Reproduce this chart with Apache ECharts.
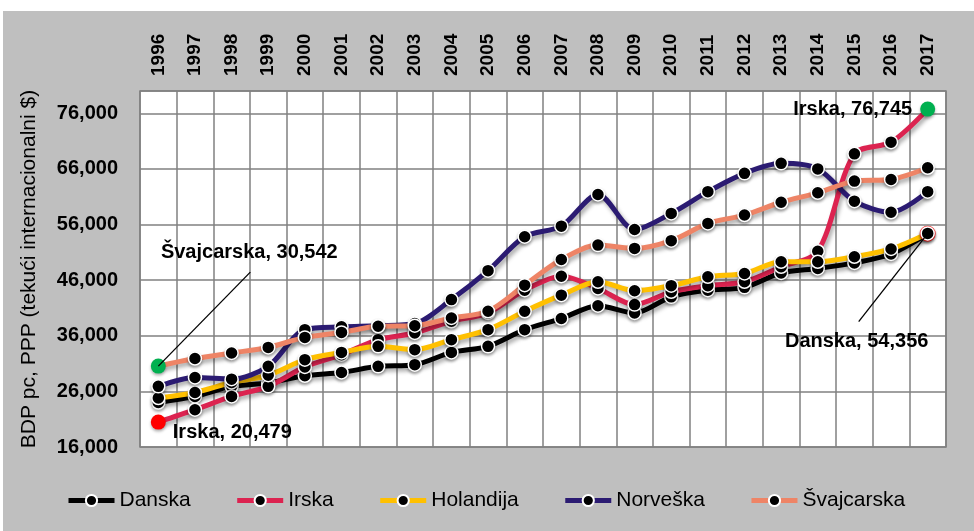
<!DOCTYPE html>
<html>
<head>
<meta charset="utf-8">
<script src="https://cdn.jsdelivr.net/npm/echarts@6/dist/echarts.min.js"></script>
<style>
  html, body { margin: 0; padding: 0; background: #fff; }
  #chart { position: absolute; left: 3px; top: 11px; width: 971px; height: 520px; background: #bfbfbf; }
</style>
</head>
<body>
<div id="chart"></div>
<script>
// godine
var years = ['1996','1997','1998','1999','2000','2001','2002','2003','2004','2005','2006',
             '2007','2008','2009','2010','2011','2012','2013','2014','2015','2016','2017'];

// BDP pc, PPP po zemljama (procjena sa slike)
var danska     = [24000, 25100, 26900, 27500, 28800, 29400, 30500, 30800, 33000, 34100, 37100, 39100, 41400, 40100, 43000, 44200, 44700, 47300, 48100, 49100, 50700, 54356];
var irska      = [20479, 22700, 25100, 26900, 30400, 32600, 35300, 36500, 38600, 40100, 44200, 46700, 44500, 41600, 43900, 45000, 45700, 48400, 51200, 68700, 70800, 76745];
var holandija  = [24800, 25800, 27600, 28900, 31700, 33000, 34100, 33500, 35300, 37100, 40400, 43300, 45700, 44100, 45000, 46600, 47200, 49300, 49300, 50200, 51600, 54400];
var norveska   = [26900, 28500, 28200, 30500, 37100, 37600, 37800, 38200, 42500, 47700, 53800, 55700, 61400, 55100, 58000, 61900, 65200, 67000, 66000, 60200, 58200, 61900];
var svajcarska = [30542, 31900, 32900, 33900, 35700, 36600, 37700, 37800, 39200, 40400, 45100, 49700, 52300, 51700, 53100, 56200, 57700, 60000, 61700, 63800, 64100, 66200];

var FONT = 'Liberation Sans, Arial, sans-serif';
var fmt = function (v) { return Number(v).toLocaleString('en-US'); };
var noteText = { color: '#000', fontSize: 20, fontWeight: 'bold', fontFamily: FONT };

// posebne tacke (prva/zadnja) sa oznakama
function special(color, size, label, border) {
  var item = {
    symbolSize: size,
    itemStyle: { color: color, borderColor: border || color, borderWidth: border ? 2 : 0 }
  };
  if (label) item.label = Object.assign({ show: true, formatter: function (p) { return p.seriesName + ', ' + fmt(p.value); } }, noteText, label);
  return item;
}

function makeSeries(name, values, color, specials, extra) {
  var data = values.map(function (v, i) {
    return specials && specials[i] ? Object.assign({ value: v }, specials[i]) : v;
  });
  return Object.assign({
    name: name,
    type: 'line',
    smooth: 0.3,
    symbol: 'circle',
    symbolSize: 13,
    data: data,
    lineStyle: { color: color, width: 5, shadowColor: 'rgba(0,0,0,0.35)', shadowBlur: 4, shadowOffsetX: 2, shadowOffsetY: 3 },
    itemStyle: { color: '#000', borderColor: '#fff', borderWidth: 1.5, shadowColor: 'rgba(0,0,0,0.3)', shadowBlur: 3, shadowOffsetY: 2 },
    emphasis: { disabled: true }
  }, extra || {});
}

var series = [
  makeSeries('Danska', danska, '#000000',
    { 21: special('#000', 14, { position: 'bottom', distance: 5 }, '#ff2020') },
    { labelLayout: function (p) { if (p.dataIndex === 21) return { dx: -71, dy: 85 }; } }),
  makeSeries('Irska', irska, '#dc2350', {
    0: special('#ff0000', 15, { position: 'right', distance: 7, offset: [0, 10] }),
    21: special('#00b050', 15, { position: 'left', distance: 8 })
  }),
  makeSeries('Holandija', holandija, '#ffc000'),
  makeSeries('Norveška', norveska, '#2b1b72'),
  makeSeries('Švajcarska', svajcarska, '#ee8466',
    { 0: special('#00b050', 15, { position: 'top', distance: 5 }) },
    { labelLayout: function (p) { if (p.dataIndex === 0) return { dx: 91, dy: -91 }; } })
];

var chart = echarts.init(document.getElementById('chart'));
chart.setOption({
  animation: false,
  backgroundColor: '#bfbfbf',
  grid: {
    left: 137, right: 28, top: 80, bottom: 84,
    show: true, backgroundColor: '#fff', borderColor: '#808080', borderWidth: 1.5
  },
  legend: {
    left: 58, top: 474,
    itemWidth: 46, itemHeight: 14, itemGap: 44,
    lineStyle: { width: 5, shadowBlur: 0, shadowOffsetX: 0, shadowOffsetY: 0 },
    itemStyle: { shadowBlur: 0, shadowOffsetY: 0 },
    textStyle: { color: '#000', fontSize: 21, fontFamily: FONT },
    data: ['Danska', 'Irska', 'Holandija', 'Norveška', 'Švajcarska']
  },
  xAxis: {
    type: 'category',
    position: 'top',
    data: years,
    boundaryGap: true,
    axisLine: { show: false },
    axisTick: { show: false },
    axisLabel: { interval: 0, rotate: -90, margin: 15, color: '#000', fontSize: 19, fontWeight: 'bold', fontFamily: FONT },
    splitLine: { show: true, interval: 0, lineStyle: { color: '#808080', width: 1.5 } }
  },
  yAxis: {
    type: 'value',
    min: 16000, max: 80000, interval: 10000,
    name: 'BDP pc, PPP (tekući internacionalni $)',
    nameLocation: 'middle',
    nameGap: 100,
    nameTextStyle: { color: '#000', fontSize: 21, fontFamily: FONT },
    axisLine: { show: false },
    axisTick: { show: false },
    axisLabel: { formatter: fmt, showMaxLabel: false, margin: 22, color: '#000', fontSize: 20, fontWeight: 'bold', fontFamily: FONT },
    splitLine: { show: true, lineStyle: { color: '#808080', width: 1.5 } }
  },
  series: series
});

// linije do oznaka, od tacke na grafu
function leader(seriesIndex, dataIndex, value, dx, dy) {
  var p = chart.convertToPixel({ seriesIndex: seriesIndex }, [dataIndex, value]);
  return {
    type: 'line', z: 100, silent: true,
    shape: { x1: p[0], y1: p[1], x2: p[0] + dx, y2: p[1] + dy },
    style: { stroke: '#000', lineWidth: 1.3 }
  };
}
chart.setOption({
  graphic: [
    leader(4, 0, svajcarska[0], 92, -94),
    leader(0, 21, danska[21], -69, 88)
  ]
});
</script>
</body>
</html>
